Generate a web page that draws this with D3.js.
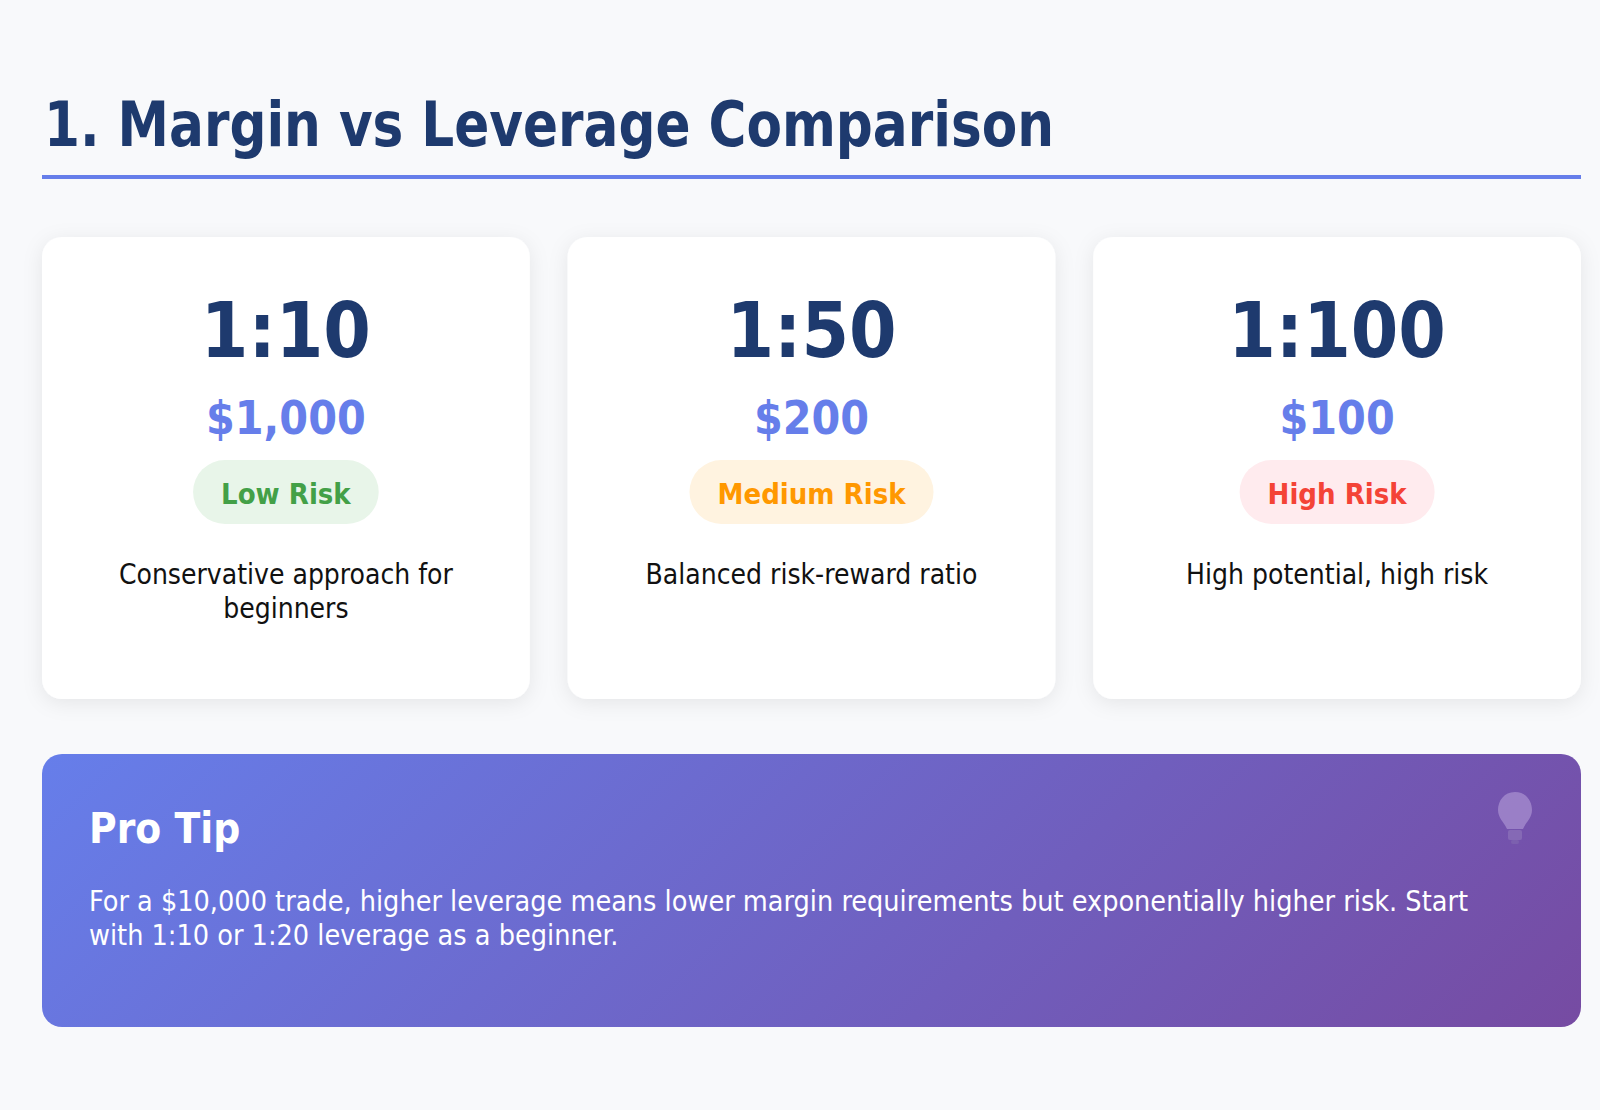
<!DOCTYPE html>
<html>
<head>
<meta charset="utf-8">
<script src="https://cdn.jsdelivr.net/npm/d3@7"></script>
<style>
  html, body { margin: 0; padding: 0; background: #f8f9fb; }
  svg { display: block; font-family: "DejaVu Sans Condensed", "DejaVu Sans", sans-serif; font-stretch: condensed; }
</style>
</head>
<body>
<div id="chart"></div>
<script>
// data
const titleText = "1. Margin vs Leverage Comparison";
const ratios = ["1:10", "1:50", "1:100"];
const margins = [1000, 200, 100];
const riskLabels = ["Low Risk", "Medium Risk", "High Risk"];
const riskColors = ["#43a047", "#ff9800", "#f44336"];
const riskFills = ["#e8f5e9", "#fff3e0", "#ffebee"];
const descLines = [["Conservative approach for", "beginners"], ["Balanced risk-reward ratio"], ["High potential, high risk"]];
const tipTitle = "Pro Tip";
const tipLines = [
  "For a $10,000 trade, higher leverage means lower margin requirements but exponentially higher risk. Start",
  "with 1:10 or 1:20 leverage as a beginner."
];

const W = 1600, H = 1110;
const left = 42, right = 1581;

const svg = d3.select("#chart").append("svg")
  .attr("width", W)
  .attr("height", H);

const defs = svg.append("defs");
const shadow = defs.append("filter")
  .attr("id", "shadow")
  .attr("x", "-20%").attr("y", "-20%")
  .attr("width", "140%").attr("height", "140%");
shadow.append("feDropShadow")
  .attr("dx", 0).attr("dy", 4)
  .attr("stdDeviation", 10)
  .attr("flood-color", "#000")
  .attr("flood-opacity", 0.08);

// tip box geometry, gradient runs at 135deg like the css one
// (coords are in the tip group's own space)
const tipTop = 754, tipH = 273, tipW = right - left;
const off = (tipW + tipH) / 4;
const grad = defs.append("linearGradient")
  .attr("id", "tipGrad")
  .attr("gradientUnits", "userSpaceOnUse")
  .attr("x1", tipW / 2 - off).attr("y1", tipH / 2 - off)
  .attr("x2", tipW / 2 + off).attr("y2", tipH / 2 + off);
grad.append("stop").attr("offset", "0%").attr("stop-color", "#667eea");
grad.append("stop").attr("offset", "100%").attr("stop-color", "#764ba2");

svg.append("rect")
  .attr("width", W).attr("height", H)
  .attr("fill", "#f8f9fb");

// title + underline
svg.append("text")
  .attr("x", 44)
  .attr("y", 146)
  .attr("fill", "#1e3a6e")
  .attr("textLength", 1010)
  .attr("lengthAdjust", "spacingAndGlyphs")
  .style("font-size", "62px")
  .style("font-weight", "bold")
  .text(titleText);

svg.append("rect")
  .attr("x", left).attr("y", 175)
  .attr("width", right - left).attr("height", 4)
  .attr("fill", "#667eea");

// cards
const x = d3.scaleBand()
  .domain(ratios)
  .range([left, right])
  .paddingInner(0.072)
  .paddingOuter(0);

const cardTop = 237, cardH = 462;
const fmt = d3.format("$,");

const cards = svg.append("g")
  .selectAll(".card")
  .data(ratios)
  .enter()
  .append("g")
  .attr("class", "card")
  .attr("transform", d => `translate(${x(d)},${cardTop})`);

cards.append("rect")
  .attr("width", x.bandwidth())
  .attr("height", cardH)
  .attr("rx", 20)
  .attr("fill", "#fff")
  .attr("filter", "url(#shadow)");

const cx = x.bandwidth() / 2;

cards.append("text")
  .attr("x", cx)
  .attr("y", 120)
  .attr("text-anchor", "middle")
  .attr("fill", "#1e3a6e")
  .style("font-size", "76px")
  .style("font-weight", "bold")
  .text(d => d);

cards.append("text")
  .attr("x", cx)
  .attr("y", 197)
  .attr("text-anchor", "middle")
  .attr("fill", "#667eea")
  .style("font-size", "46px")
  .style("font-weight", "bold")
  .text((d, i) => fmt(margins[i]));

// risk pills
cards.each(function (d, i) {
  const g = d3.select(this);
  const label = g.append("text")
    .attr("x", cx)
    .attr("y", 267)
    .attr("text-anchor", "middle")
    .attr("fill", riskColors[i])
    .style("font-size", "29px")
    .style("font-weight", "bold")
    .text(riskLabels[i]);
  const tw = label.node().getComputedTextLength();
  const pw = tw + 56, ph = 64;
  g.insert("rect", "text:last-of-type")
    .attr("x", cx - pw / 2)
    .attr("y", 223)
    .attr("width", pw)
    .attr("height", ph)
    .attr("rx", ph / 2)
    .attr("fill", riskFills[i]);
  label.raise();

  g.append("text")
    .attr("text-anchor", "middle")
    .attr("fill", "#111")
    .style("font-size", "28px")
    .selectAll("tspan")
    .data(descLines[i])
    .enter()
    .append("tspan")
    .attr("x", cx)
    .attr("y", (l, j) => 347 + j * 34)
    .text(l => l);
});

// pro tip box
const tip = svg.append("g").attr("transform", `translate(${left},${tipTop})`);
tip.append("rect")
  .attr("width", tipW)
  .attr("height", tipH)
  .attr("rx", 20)
  .attr("fill", "url(#tipGrad)");

tip.append("text")
  .attr("x", 47)
  .attr("y", 89)
  .attr("fill", "#fff")
  .style("font-size", "42px")
  .style("font-weight", "bold")
  .text(tipTitle);

tip.append("text")
  .attr("fill", "#fff")
  .style("font-size", "28.5px")
  .selectAll("tspan")
  .data(tipLines)
  .enter()
  .append("tspan")
  .attr("x", 47)
  .attr("y", (l, j) => 157 + j * 34)
  .text(l => l);

// lightbulb icon, faded
const bulb = tip.append("g")
  .attr("transform", `translate(${tipW - 66},38)`)
  .attr("opacity", 0.4);
bulb.append("path")
  .attr("d", "M0,0 C-11,0 -17,9 -17,18 C-17,26 -11,30 -8,37 L8,37 C11,30 17,26 17,18 C17,9 11,0 0,0 Z")
  .attr("fill", "#d4c2ee");
bulb.append("rect")
  .attr("x", -7).attr("y", 38)
  .attr("width", 14).attr("height", 10)
  .attr("rx", 2)
  .attr("fill", "#a08cc4");
bulb.append("rect")
  .attr("x", -4).attr("y", 48)
  .attr("width", 8).attr("height", 4)
  .attr("rx", 2)
  .attr("fill", "#8a76b4");
</script>
</body>
</html>
